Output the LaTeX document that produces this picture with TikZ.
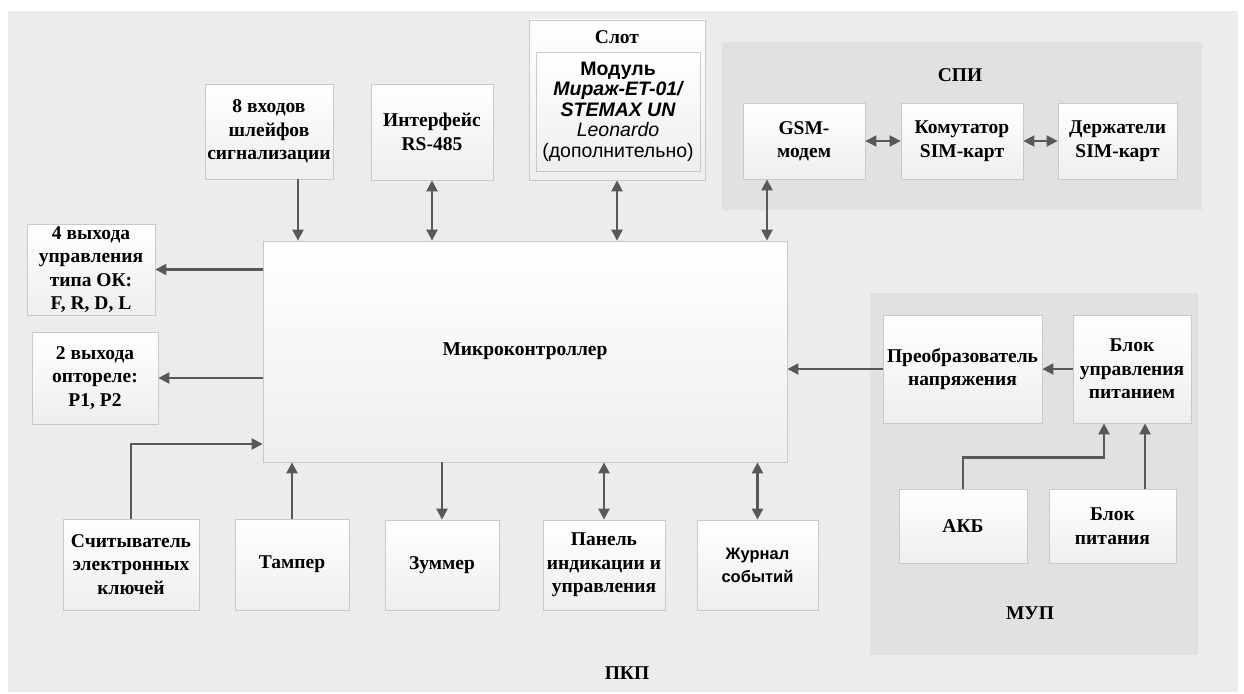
\documentclass[tikz,border=0pt]{standalone}
\usepackage{fontspec}
\setmainfont{Liberation Serif}
\newfontfamily\sansf{Liberation Sans}
\usetikzlibrary{arrows.meta}
\definecolor{pkpfill}{HTML}{ECECEC}
\definecolor{grpfill}{HTML}{E1E1E1}
\definecolor{boxline}{HTML}{C9C9C9}
\definecolor{boxbot}{HTML}{EEEEEE}
\definecolor{arrgray}{HTML}{585858}
\begin{document}
\begin{tikzpicture}[x=1pt,y=-1pt,
  txt/.style={font=\bfseries\fontsize{19.5}{23.5}\selectfont, align=center},
  blk/.style={txt, draw=boxline, line width=0.8pt, top color=white, bottom color=boxbot, inner sep=1pt},
  grp/.style={fill=grpfill, inner sep=0pt},
  arr/.style={draw=arrgray, line width=2.4pt, -{Triangle[length=11pt,width=11pt]}},
  biarr/.style={arr, {Triangle[length=11pt,width=11pt]}-{Triangle[length=11pt,width=11pt]}},
  thinbi/.style={biarr, line width=1.8pt}]
\useasboundingbox (0,0) rectangle (1244,693);
% frames
\node[fill=pkpfill, inner sep=0pt, minimum width=1230pt, minimum height=681pt] (pkp) at (623,351.5) {};
\node[txt] (pkplbl) at (627,673) {ПКП};
\node[grp, minimum width=480pt, minimum height=168pt] (spi) at (962,126) {};
\node[txt] (spilbl) at (960,75) {СПИ};
\node[grp, minimum width=328pt, minimum height=362pt] (mup) at (1034,474) {};
\node[txt] (muplbl) at (1030,613) {МУП};
% top row
\node[blk, minimum width=128pt, minimum height=95pt] (inp) at (269,131.5) {8 входов\\шлейфов\\сигнализации};
\node[blk, minimum width=122pt, minimum height=96pt] (rs) at (432,132) {Интерфейс\\RS-485};
\node[blk, minimum width=176pt, minimum height=160pt] (slot) at (617,100) {};
\node[txt] (slotlbl) at (617,37) {Слот};
\node[blk, minimum width=164pt, minimum height=119pt, inner sep=0pt, font=\sansf\fontsize{19.5}{20.5}\selectfont] (modul) at (618,111.5)
  {\bfseries Модуль\\\bfseries\itshape Мираж-ET-01/\\\bfseries\itshape STEMAX UN\\\itshape Leonardo\\(дополнительно)};
\node[blk, minimum width=122pt, minimum height=76pt] (gsm) at (804,141) {GSM-\\модем};
\node[blk, minimum width=122pt, minimum height=76pt] (kom) at (962,141) {Комутатор\\SIM-карт};
\node[blk, minimum width=119pt, minimum height=76pt] (der) at (1117.5,141) {Держатели\\SIM-карт};
% controller
\node[blk, minimum width=524pt, minimum height=221pt] (mcu) at (525,351.5) {Микроконтроллер};
% left column
\node[blk, minimum width=128pt, minimum height=91pt] (out4) at (91,269.5) {4 выхода\\управления\\типа ОК:\\F, R, D, L};
\node[blk, minimum width=126pt, minimum height=92pt] (out2) at (95,378) {2 выхода\\оптореле:\\P1, P2};
% bottom row
\node[blk, minimum width=136pt, minimum height=91pt] (rd) at (131,564.5) {Считыватель\\электронных\\ключей};
\node[blk, minimum width=114pt, minimum height=91pt] (tmp) at (292,564.5) {Тампер};
\node[blk, minimum width=114pt, minimum height=90pt] (zum) at (442,565) {Зуммер};
\node[blk, minimum width=122pt, minimum height=90pt] (pan) at (604,565) {Панель\\индикации и\\управления};
\node[blk, minimum width=121pt, minimum height=90pt, font=\sansf\bfseries\fontsize{16.5}{23}\selectfont] (jur) at (757.5,565) {Журнал\\событий};
% power unit
\node[blk, minimum width=159pt, minimum height=108pt] (conv) at (962.5,369) {Преобразователь\\напряжения};
\node[blk, minimum width=118pt, minimum height=108pt] (bup) at (1132,369) {Блок\\управления\\питанием};
\node[blk, minimum width=128pt, minimum height=74pt] (akb) at (963,526) {АКБ};
\node[blk, minimum width=127pt, minimum height=74pt] (bp) at (1112.5,526) {Блок\\питания};
% connector ends
\coordinate (inpo) at ([xshift=29pt]inp.south);
\coordinate (gsmo) at ([xshift=-37pt]gsm.south);
\coordinate (mcuin) at ([yshift=-92.5pt]mcu.west);
\coordinate (bupa) at ([xshift=-28pt]bup.south);
\coordinate (bupb) at ([xshift=13pt]bup.south);
% connectors
\draw[arr] (inpo) -- (inpo |- mcu.north);
\draw[biarr] (rs) -- (rs |- mcu.north);
\draw[biarr] (slot) -- (slot |- mcu.north);
\draw[biarr] (gsmo) -- (gsmo |- mcu.north);
\draw[thinbi] (gsm) -- (kom);
\draw[thinbi] (kom) -- (der);
\draw[arr] (mcu.west |- out4.east) -- (out4.east);
\draw[arr] (mcu.west |- out2.east) -- (out2.east);
\draw[arr] (rd.north) |- (mcuin);
\draw[arr] (tmp) -- (tmp |- mcu.south);
\draw[arr] (zum |- mcu.south) -- (zum);
\draw[biarr] (pan |- mcu.south) -- (pan);
\draw[biarr] (jur |- mcu.south) -- (jur);
\draw[arr] (conv.west) -- (conv.west -| mcu.east);
\draw[arr] (bup.west) -- (conv.east);
\draw[arr] (akb.north) -- ++(0,-31) -| (bupa);
\draw[arr] (bp.north -| bupb) -- (bupb);
\end{tikzpicture}
\end{document}
